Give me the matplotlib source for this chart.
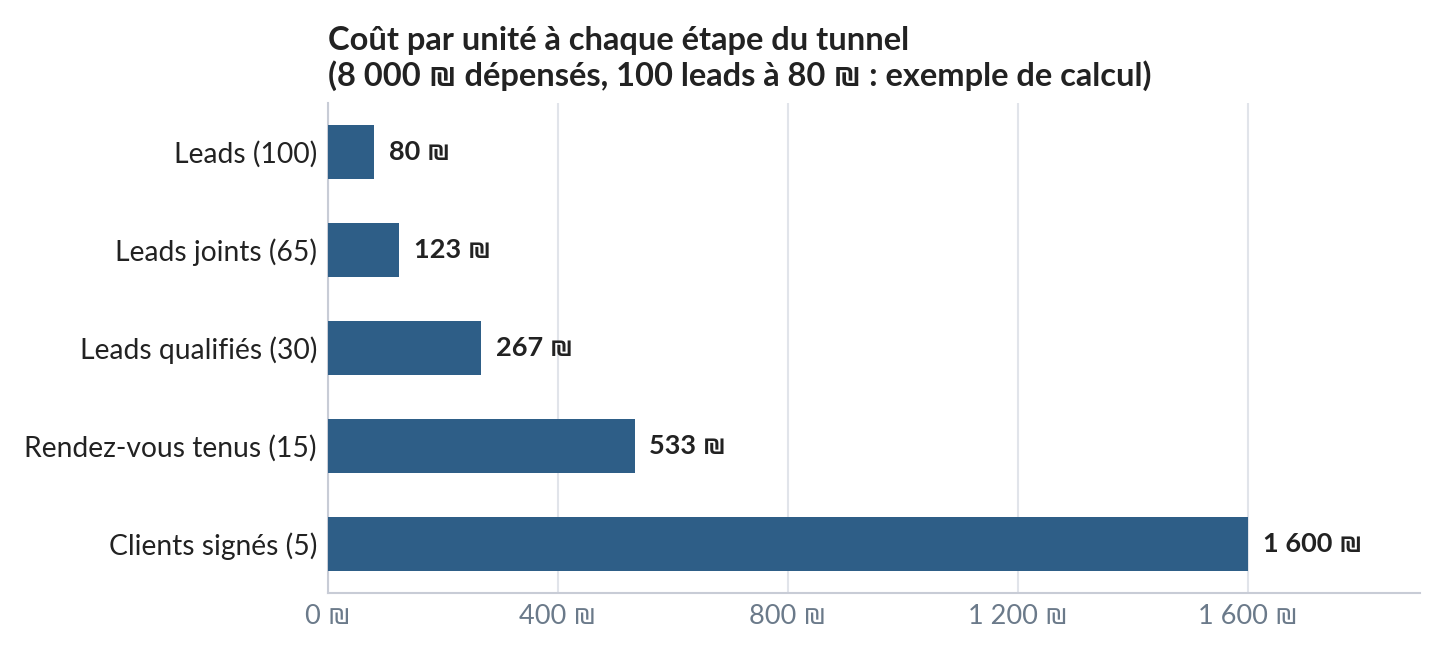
import matplotlib
matplotlib.use("Agg")
import matplotlib.pyplot as plt

# funnel stages and cost per unit (8000 spent)
stages = ["Leads (100)", "Leads joints (65)", "Leads qualifiés (30)",
          "Rendez-vous tenus (15)", "Clients signés (5)"]
cost = [80, 8000 / 65, 8000 / 30, 8000 / 15, 1600]
bar_labels = ["80 ₪", "123 ₪", "267 ₪", "533 ₪", "1 600 ₪"]
xticks = [0, 400, 800, 1200, 1600]
xtick_labels = ["0 ₪", "400 ₪", "800 ₪", "1 200 ₪", "1 600 ₪"]

plt.rcParams['font.family'] = ['Lato', 'DejaVu Sans']

fig = plt.figure(figsize=(14.45, 6.58), dpi=100)
ax = fig.add_axes([0.227, 0.0988, 0.7557, 0.7447])

ypos = list(range(len(stages)))
ax.barh(ypos, cost, height=0.56, color="#2e5e87", zorder=3)
for y, v, lab in zip(ypos, cost, bar_labels):
    ax.text(v + 26, y, lab, va="center", ha="left", fontsize=19.5,
            fontweight="bold", color="#222222")

ax.set_yticks(ypos)
ax.set_yticklabels(stages, fontsize=20.3, color="#222222")
ax.set_ylim(4.5, -0.5)
ax.set_xlim(0, 1900)
ax.set_xticks(xticks)
ax.set_xticklabels(xtick_labels, fontsize=19.5, color="#6b7a8a")
ax.tick_params(axis="both", length=0, pad=8)

ax.grid(axis="x", color="#e1e4ea", linewidth=1.5, zorder=0)
for s in ["top", "right"]:
    ax.spines[s].set_visible(False)
for s in ["left", "bottom"]:
    ax.spines[s].set_color("#c8ccd6")
    ax.spines[s].set_linewidth(1.5)

fig.text(0.227, 0.961, "Coût par unité à chaque étape du tunnel\n"
         "(8 000 ₪ dépensés, 100 leads à 80 ₪ : exemple de calcul)",
         ha="left", va="top", fontsize=23.5, fontweight="bold",
         color="#222222", linespacing=1.2)

fig.savefig("out.png", dpi=100)
